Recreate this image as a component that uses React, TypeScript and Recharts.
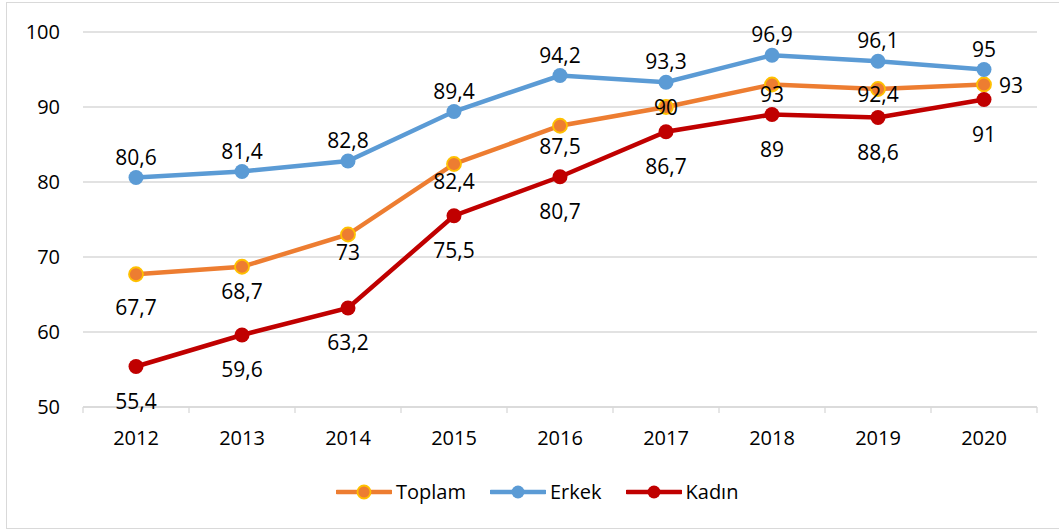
import React from 'react';
import { ComposedChart, Line, XAxis, YAxis, CartesianGrid, LabelList } from 'recharts';

const years = ['2012', '2013', '2014', '2015', '2016', '2017', '2018', '2019', '2020'];
const toplam = [67.7, 68.7, 73, 82.4, 87.5, 90, 93, 92.4, 93];
const erkek = [80.6, 81.4, 82.8, 89.4, 94.2, 93.3, 96.9, 96.1, 95];
const kadin = [55.4, 59.6, 63.2, 75.5, 80.7, 86.7, 89, 88.6, 91];
const yTicks = [50, 60, 70, 80, 90, 100];

const data = years.map((y, i) => ({ year: y, Toplam: toplam[i], Erkek: erkek[i], Kadin: kadin[i] }));

const FONT = "'Open Sans', sans-serif";
const ORANGE = '#ED7D31';
const YELLOW = '#FFC000';
const BLUE = '#5B9BD5';
const RED = '#C00000';
const GRID = '#D9D9D9';
const X_TICK_GAP = 24;

// label placement (offsets from the point)
const toplamDy = [33, 24, 17, 17, 20, 0, 9, 5, 0];
const toplamDx = [0, 0, 0, 0, 0, 0, 0, 0, 27];

const fmt = (v: number) => String(v).replace('.', ',');

const makeLabel = (dxs: number[] | null, dys: number[] | null, dyAll: number) => (props: any) => {
  const { x, y, value, index } = props;
  const dx = dxs ? dxs[index] : 0;
  const dy = dys ? dys[index] : dyAll;
  return (
    <text
      x={x + dx}
      y={y + dy}
      textAnchor="middle"
      dominantBaseline="central"
      fontFamily={FONT}
      fontSize={21}
      fill="#000"
    >
      {fmt(value)}
    </text>
  );
};

const XTick = (props: any) => {
  const { x, y, payload, index, visibleTicksCount } = props;
  const half = payload && payload.offset ? payload.offset : 0;
  const axisY = y - X_TICK_GAP;
  const isLast = index === (visibleTicksCount ?? years.length) - 1;
  return (
    <g>
      <line x1={x - half} x2={x - half} y1={axisY} y2={axisY + 6} stroke={GRID} strokeWidth={1.3} />
      {isLast && <line x1={x + half} x2={x + half} y1={axisY} y2={axisY + 6} stroke={GRID} strokeWidth={1.3} />}
      <text x={x} y={y} dy="0.71em" textAnchor="middle" fontFamily={FONT} fontSize={20} fill="#000">
        {payload.value}
      </text>
    </g>
  );
};

const legendItems = [
  { name: 'Toplam', color: ORANGE, stroke: YELLOW },
  { name: 'Erkek', color: BLUE, stroke: BLUE },
  { name: 'Kadın', color: RED, stroke: RED },
];

export default function App() {
  return (
    <div style={{ position: 'absolute', left: 0, top: 0, width: 1059, height: 531, background: '#fff', overflow: 'hidden' }}>
      <div
        style={{
          position: 'absolute',
          left: 6,
          top: 2,
          width: 1070,
          height: 527,
          borderLeft: `1px solid ${GRID}`,
          borderTop: `1px solid ${GRID}`,
          borderBottom: `1px solid ${GRID}`,
          boxSizing: 'border-box',
        }}
      />
      <div style={{ position: 'absolute', left: 0, top: 0 }}>
        <ComposedChart width={1059} height={531} data={data} margin={{ top: 32, right: 22, bottom: 74, left: 0 }}>
          <CartesianGrid vertical={false} stroke={GRID} strokeWidth={1.3} />
          <XAxis
            dataKey="year"
            scale="band"
            tickLine={false}
            axisLine={{ stroke: GRID, strokeWidth: 1.3 }}
            tickSize={0}
            tickMargin={X_TICK_GAP}
            height={50}
            interval={0}
            tick={XTick}
          />
          <YAxis
            domain={[50, 100]}
            ticks={yTicks}
            axisLine={false}
            tickLine={false}
            tickSize={0}
            tickMargin={23}
            width={83}
            tick={{ fontFamily: FONT, fontSize: 20, fill: '#000' }}
          />
          <Line
            dataKey="Toplam"
            stroke={ORANGE}
            strokeWidth={4.5}
            dot={{ r: 7, fill: ORANGE, stroke: YELLOW, strokeWidth: 1.8 }}
            isAnimationActive={false}
          >
            <LabelList dataKey="Toplam" content={makeLabel(toplamDx, toplamDy, 0)} />
          </Line>
          <Line
            dataKey="Erkek"
            stroke={BLUE}
            strokeWidth={4.5}
            dot={{ r: 7.5, fill: BLUE, stroke: BLUE, strokeWidth: 0 }}
            isAnimationActive={false}
          >
            <LabelList dataKey="Erkek" content={makeLabel(null, null, -21)} />
          </Line>
          <Line
            dataKey="Kadin"
            stroke={RED}
            strokeWidth={4.5}
            dot={{ r: 7.5, fill: RED, stroke: RED, strokeWidth: 0 }}
            isAnimationActive={false}
          >
            <LabelList dataKey="Kadin" content={makeLabel(null, null, 34)} />
          </Line>
        </ComposedChart>
      </div>
      <div
        style={{
          position: 'absolute',
          left: 336,
          top: 478,
          display: 'flex',
          alignItems: 'center',
          fontFamily: FONT,
          fontSize: 20,
          color: '#000',
        }}
      >
        {legendItems.map((it, i) => (
          <div key={it.name} style={{ display: 'flex', alignItems: 'center', marginRight: i < legendItems.length - 1 ? 24 : 0 }}>
            <svg width={56} height={28} style={{ display: 'block' }}>
              <line x1={1} y1={14} x2={55} y2={14} stroke={it.color} strokeWidth={4.5} strokeLinecap="round" />
              <circle cx={28} cy={14} r={6.5} fill={it.color} stroke={it.stroke} strokeWidth={it.stroke === it.color ? 0 : 1.8} />
            </svg>
            <span style={{ marginLeft: 4, lineHeight: '28px' }}>{it.name}</span>
          </div>
        ))}
      </div>
    </div>
  );
}
